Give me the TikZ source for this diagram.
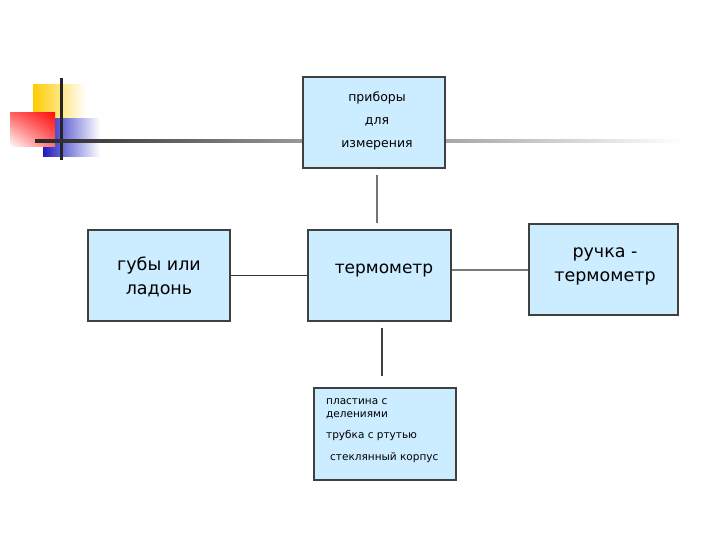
\documentclass[tikz,border=0pt]{standalone}
\usepackage{fontspec}
\setmainfont{DejaVu Sans}
\usetikzlibrary{calc,shadings}
\definecolor{boxfill}{HTML}{CCECFF}
\definecolor{boxline}{HTML}{404040}
\definecolor{decoyellow}{HTML}{FFCC00}
\definecolor{decoblue}{HTML}{1C1CC0}
\definecolor{decored}{HTML}{FF1010}
\tikzset{
  boxnode/.style={draw=boxline, line width=1.3pt, fill=boxfill, rectangle, inner sep=0pt},
  bigtext/.style={font=\fontsize{17.5}{24}\selectfont, align=center},
  smalltext/.style={font=\fontsize{12.5}{23}\selectfont, align=center},
  tinytext/.style={font=\fontsize{10.5}{13}\selectfont, align=left, anchor=north west, inner sep=0pt},
}
\begin{document}
\begin{tikzpicture}[x=1pt,y=-1pt]
\useasboundingbox[fill=white] (0,0) rectangle (720,540);

% decoration
\shade[left color=decoyellow, middle color=decoyellow!90, right color=white] (33,85) rectangle (86,131);
\shade[left color=decoblue, middle color=decoblue!90, right color=white] (43,119) rectangle (100,157);
\shade[upper right=decored, upper left=decored!65, lower right=decored!60, lower left=white] (10,113) rectangle (55,147);
\fill[black!85] (60,78) rectangle (62.5,160);
\shade[left color=black!85, right color=gray!80] (35,139.8) rectangle (303,142.6);
\shade[left color=gray!70, right color=white] (445,139.8) rectangle (682,142.6);

% boxes
\node[boxnode, minimum width=142pt, minimum height=91pt] (top) at (374,122.5) {};
\node[smalltext] (toptext) at (377,120.5) {приборы\\для\\измерения};

\node[boxnode, minimum width=143pt, minimum height=91pt] (ctr) at (379.5,275.5) {};
\node[bigtext, font=\fontsize{17}{24}\selectfont] (ctrtext) at (384,271) {термометр};

\node[boxnode, minimum width=142pt, minimum height=91pt] (left) at (159,275.5) {};
\node[bigtext] (lefttext) at (159,277) {губы или\\ладонь};

\node[boxnode, minimum width=149pt, minimum height=91pt] (right) at (603.5,269.5) {};
\node[bigtext] (righttext) at (605,266) {ручка -\\термометр};

\node[boxnode, minimum width=142pt, minimum height=92pt] (bot) at (385,434) {};
\node[tinytext] (bottext) at (326,398) {пластина с\\делениями\\[8pt]трубка с ртутью\\[9pt]\hspace{4pt}стеклянный корпус};

% connectors
\draw[gray!90!black, line width=1.6pt] ($(top.south)+(3,6)$) -- ($(ctr.north)+(-2.5,-6)$);
\draw[black!80, line width=1pt] (left.east |- 0,275) -- (ctr.west |- 0,275);
\draw[gray!95!black, line width=2pt] (ctr.east |- right.west) -- (right.west);
\draw[black!75, line width=1.6pt] ($(ctr.south)+(2.5,6)$) -- ($(bot.north)+(-3,-11)$);
\end{tikzpicture}
\end{document}
